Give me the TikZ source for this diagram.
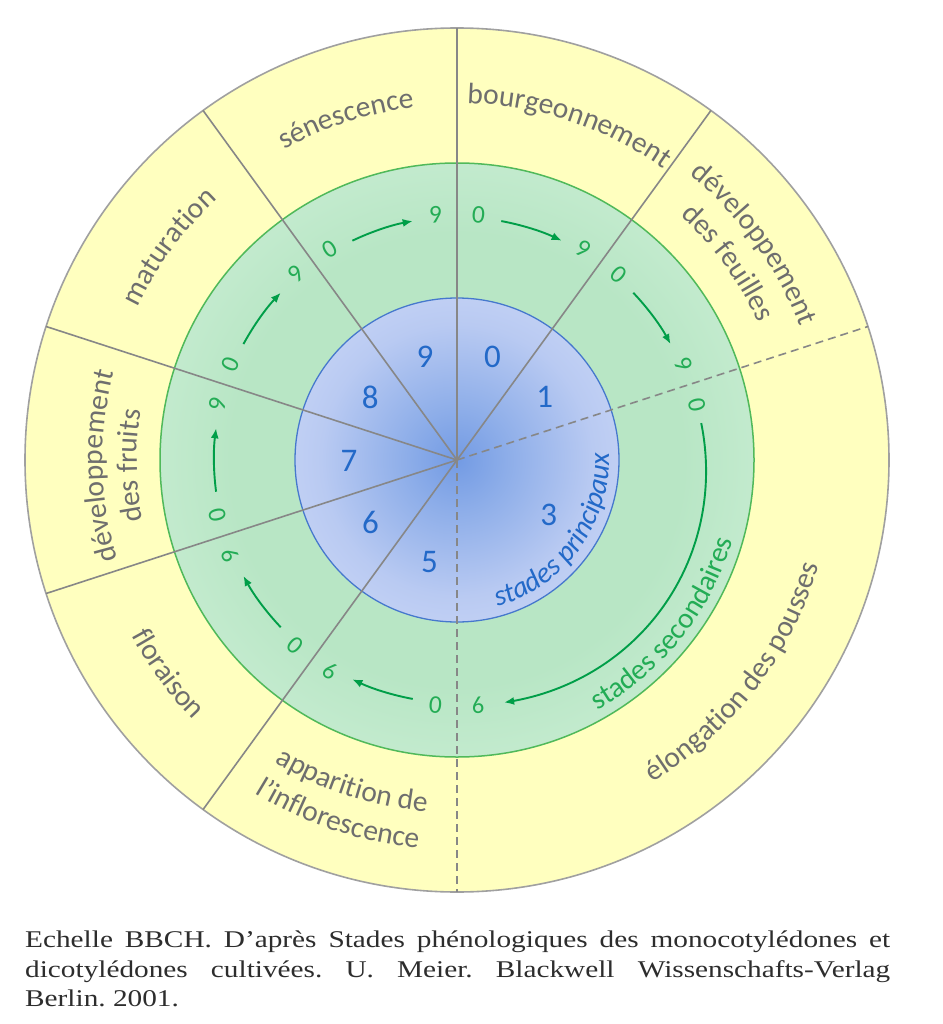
\documentclass[tikz,border=0pt]{standalone}
\usepackage{fontspec}
\usetikzlibrary{decorations.text,arrows.meta}
\newfontfamily\carlito{Carlito}
\newfontfamily\capfont[FakeStretch=1.22]{Liberation Serif}
\definecolor{yellowfill}{RGB}{255,255,191}
\definecolor{outergray}{RGB}{160,160,160}
\definecolor{gIn}{RGB}{184,230,197}
\definecolor{gOut}{RGB}{212,242,220}
\definecolor{greenborder}{RGB}{80,185,90}
\definecolor{bC}{RGB}{115,155,228}
\definecolor{bM}{RGB}{142,174,233}
\definecolor{bN}{RGB}{185,202,242}
\definecolor{bE}{RGB}{208,219,247}
\definecolor{blueborder}{RGB}{70,120,205}
\definecolor{divgray}{RGB}{135,135,135}
\definecolor{greenarr}{RGB}{0,158,72}
\definecolor{greentxt}{RGB}{35,172,85}
\definecolor{bluetxt}{RGB}{35,105,200}
\definecolor{labgray}{RGB}{110,110,110}
\definecolor{captxt}{RGB}{45,45,45}
\pgfdeclareradialshading{greenshade}{\pgfpoint{0bp}{0bp}}{color(0bp)=(gIn); color(19bp)=(gIn); color(35bp)=(gOut); color(50bp)=(gOut)}
\pgfdeclareradialshading{blueshade}{\pgfpoint{0bp}{0bp}}{color(0bp)=(bC); color(8bp)=(bM); color(21bp)=(bN); color(35bp)=(bE); color(50bp)=(bE)}
\newcommand\cwlabel[4]{%
  \path[decorate,decoration={text along path,text align=center,text={|#3|#4}}]
    ({#2+70}:#1) arc[start angle={#2+70}, end angle={#2-70}, radius=#1];}
\newcommand\ccwlabel[4]{%
  \path[decorate,decoration={text along path,text align=center,text={|#3|#4}}]
    ({#2-70}:#1) arc[start angle={#2-70}, end angle={#2+70}, radius=#1];}
\newcommand\labfmt{\carlito\fontsize{29.5}{30}\selectfont\color{labgray}}
\newcommand\secfmt{\carlito\fontsize{29}{30}\selectfont\color{greentxt}}
\newcommand\prifmt{\carlito\itshape\fontsize{29}{30}\selectfont\color{bluetxt}}
\tikzset{
  divline/.style={draw=divgray, line width=1.6pt},
  divdash/.style={draw=divgray, line width=1.6pt, dash pattern=on 8pt off 5pt},
  bnum/.style={font=\carlito\fontsize{33}{33}\selectfont, text=bluetxt, inner sep=0pt},
  gnum/.style={font=\carlito\fontsize{25.5}{26}\selectfont, text=greentxt, inner sep=0pt},
  garrow/.style={draw=greenarr, line width=1.9pt, -{Latex[length=10pt,width=8pt]}},
  capt/.style={font=\capfont\fontsize{24}{24}\selectfont\frenchspacing, text=captxt, inner sep=0pt, anchor=base west},
}
\begin{document}
\begin{tikzpicture}[x=1pt,y=1pt]
\begin{scope}[shift={(457,-460)}]
\path[use as bounding box, fill=white] (-457,460) rectangle (485,-564);
% rings
\filldraw[fill=yellowfill, draw=outergray, line width=1.6pt] (0,0) circle[radius=432pt];
\shadedraw[shading=greenshade, draw=greenborder, line width=1.5pt] (0,0) circle[radius=297pt];
\shadedraw[shading=blueshade, draw=blueborder, line width=1.3pt] (0,0) circle[radius=162pt];
% dividers
\coordinate (O) at (0,0);
\foreach \a in {90,54,126,162,198,234} {
  \coordinate (d\a) at (\a:432pt);
  \draw[divline] (O) -- (d\a);
}
\coordinate (d18) at (18:432pt);
\coordinate (d270) at (270:432pt);
\draw[divdash] (O) -- (d18);
\draw[divdash] (O) -- (d270);
% blue main stages
\node[bnum] (b0) at (71:109pt) {0};
\node[bnum] (b1) at (35.6:108pt) {1};
\node[bnum] (b3) at (-31:107pt) {3};
\node[bnum] (b5) at (255:106pt) {5};
\node[bnum] (b6) at (216:107pt) {6};
\node[bnum] (b7) at (180.5:108pt) {7};
\node[bnum] (b8) at (144.3:107pt) {8};
\node[bnum] (b9) at (107.2:108pt) {9};
% green secondary stages
\foreach \a/\b [count=\i] in {126/90, 90/54, 54/18, 18/-90, -90/-126, -126/-162, -162/-198, -198/-234} {
  \node[gnum, rotate={\a-95}] (z\i) at ({\a-5}:246pt) {0};
  \node[gnum, rotate={\b-85}] (n\i) at ({\b+5}:246pt) {9};
}
\foreach \a/\b in {126/90, 90/54, 54/18, -90/-126, -126/-162, -162/-198, -198/-234} {
  \draw[garrow] ({\a-10.5}:243pt) arc[start angle={\a-10.5}, end angle={\b+10.5}, radius=243pt];
}
\draw[garrow] plot[domain=8.6:-79, samples=60, smooth] (\x:{247+6*sin((8.6-\x)*180/87.6)});
% ring labels
\cwlabel{355pt}{108}{\labfmt}{sénescence}
\cwlabel{357pt}{71.5}{\labfmt}{bourgeonnement}
\cwlabel{368pt}{36}{\labfmt}{développement}
\cwlabel{331pt}{36}{\labfmt}{des feuilles}
\cwlabel{354pt}{143.5}{\labfmt}{maturation}
\cwlabel{354pt}{181}{\labfmt}{développement}
\cwlabel{320pt}{181}{\labfmt}{des fruits}
\ccwlabel{370pt}{216.5}{\labfmt}{floraison}
\ccwlabel{353pt}{252}{\labfmt}{apparition de}
\ccwlabel{390pt}{251.5}{\labfmt}{l’inflorescence}
\ccwlabel{377pt}{-37.5}{\labfmt}{élongation des pousses}
\ccwlabel{287pt}{-38.5}{\secfmt}{stades secondaires}
\ccwlabel{152pt}{-36}{\prifmt}{stades principaux}
% caption
\node[capt] (cap1) at (-432,-487) {\makebox[865pt][s]{Echelle BBCH. D’après Stades phénologiques des monocotylédones et}};
\node[capt] (cap2) at (-432,-517) {\makebox[865pt][s]{dicotylédones cultivées. U. Meier. Blackwell Wissenschafts-Verlag}};
\node[capt] (cap3) at (-432,-546) {Berlin. 2001.};
\end{scope}
\end{tikzpicture}
\end{document}
